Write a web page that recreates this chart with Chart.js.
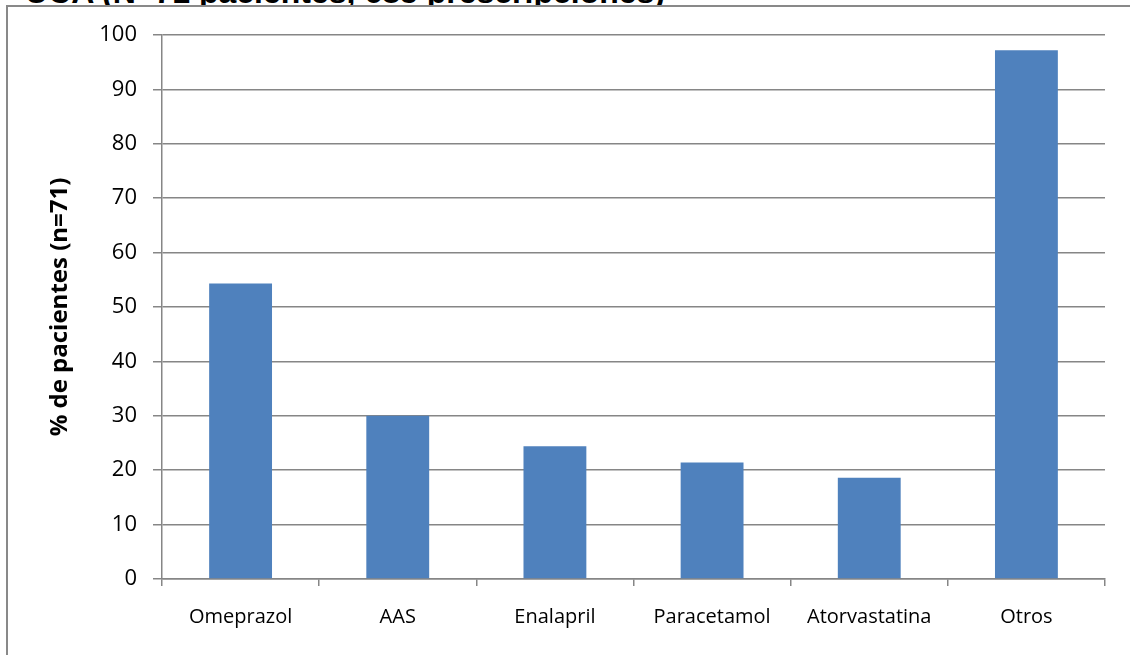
<!DOCTYPE html>
<html>
<head>
<meta charset="utf-8">
<script src="https://cdn.jsdelivr.net/npm/chart.js@4/dist/chart.umd.min.js"></script>
<style>
  html, body { margin: 0; padding: 0; background: #fff; overflow: hidden; }
  #wrap { position: relative; width: 1130px; height: 655px; }
  #title {
    position: absolute; left: 25px; top: -24px; z-index: 0;
    font: bold 32px "Liberation Sans", Arial, sans-serif; line-height: 32px;
    color: #000; white-space: nowrap;
  }
  #frame {
    position: absolute; left: 6px; top: 5px; width: 1140px; height: 660px; z-index: 1;
    background: #fff; border-left: 2px solid #898989; border-top: 2px solid #898989;
  }
  #chartBox { position: absolute; left: 0; top: 0; width: 1130px; height: 655px; z-index: 2; }
</style>
</head>
<body>
<div id="wrap">
  <div id="title">UCA (N=71 pacientes, 685 prescripciones)</div>
  <div id="frame"></div>
  <div id="chartBox"><canvas id="usoChart" width="1130" height="655"></canvas></div>
</div>
<script>
const categories = ['Omeprazol', 'AAS', 'Enalapril', 'Paracetamol', 'Atorvastatina', 'Otros'];
const pctPacientes = [54.3, 30, 24.4, 21.4, 18.6, 97.2];
const yTicks = [0, 10, 20, 30, 40, 50, 60, 70, 80, 90, 100];

const gridGray = '#868686';

const ctx = document.getElementById('usoChart').getContext('2d');

new Chart(ctx, {
  type: 'bar',
  data: {
    labels: categories,
    datasets: [
      {
        label: '% de pacientes',
        data: pctPacientes,
        backgroundColor: '#4F81BD',
        borderWidth: 0,
        barPercentage: 0.4,
        categoryPercentage: 1,
      },
    ],
  },
  options: {
    responsive: false,
    animation: false,
    layout: {
      padding: { left: 0, right: 25, top: 35, bottom: 0 },
    },
    plugins: {
      legend: { display: false },
      tooltip: { enabled: false },
    },
    scales: {
      x: {
        grid: {
          display: true,
          drawOnChartArea: false,
          drawTicks: true,
          tickLength: 7,
          color: gridGray,
          lineWidth: 1.5,
        },
        border: { color: gridGray, width: 1.5 },
        ticks: {
          color: '#000',
          padding: 19,
          font: { family: 'Open Sans', size: 20 },
        },
        afterFit: (scale) => {
          scale.height = 76;
        },
      },
      y: {
        min: 0,
        max: 100,
        afterBuildTicks: (scale) => {
          scale.ticks = yTicks.map((v) => ({ value: v }));
        },
        grid: {
          color: gridGray,
          lineWidth: 1.5,
          tickLength: 9,
        },
        border: { color: gridGray, width: 1.5 },
        ticks: {
          color: '#000',
          padding: 16,
          font: { family: 'Open Sans', size: 22 },
        },
        title: {
          display: true,
          text: '% de pacientes (n=71)',
          color: '#000',
          padding: { top: 46, bottom: 0 },
          font: { family: 'Open Sans', size: 24, weight: 'bold' },
        },
        afterFit: (scale) => {
          scale.width = 162;
        },
      },
    },
  },
});
</script>
</body>
</html>
